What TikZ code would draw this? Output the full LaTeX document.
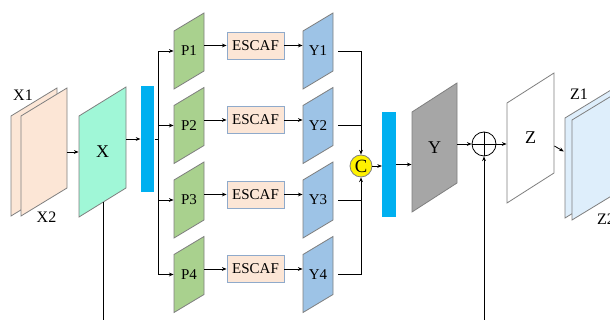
\documentclass[tikz,border=0pt]{standalone}
\usepackage{fontspec}
\setmainfont{Liberation Serif}
\usepackage{xcolor}
\usetikzlibrary{arrows.meta, calc}

\definecolor{peach}{HTML}{FCE6D6}
\definecolor{mint}{HTML}{A0F7D7}
\definecolor{leaf}{HTML}{A9D18E}
\definecolor{sky}{HTML}{9DC3E6}
\definecolor{barblue}{HTML}{00B0F0}
\definecolor{ice}{HTML}{DEEEFB}
\definecolor{edge}{HTML}{7F7F7F}
\definecolor{escedge}{HTML}{8FAACB}

\newcommand{\sheet}[8]{%
  \filldraw[#7] (#2,#3) -- ++(0,#5) -- ++(#4,#6) -- ++(0,-#5) -- cycle;
  \node[inner sep=0pt, minimum width=#4*0.75pt] (#1) at ({#2+#4/2},{#3+#5/2+#6/2}) {#8};
}
\newcommand{\bigtxt}{\fontsize{13.5}{15}\selectfont}

\begin{document}
\begin{tikzpicture}[x=0.75pt, y=0.75pt, line width=0.6pt,
        every node/.style={font=\fontsize{11.25}{13}\selectfont},
        arr/.style={-{Stealth[length=3.5pt, width=2.8pt]}},
        esc/.style={draw=escedge, fill=peach, inner sep=0pt, minimum width=42.75pt, minimum height=20.25pt},
        bar/.style={fill=barblue, inner sep=0pt, minimum width=10pt},
        lab/.style={font=\fontsize{12}{14}\selectfont}]
            \useasboundingbox (0,0) rectangle (610,320);
            \clip (0,0) rectangle (610,320);
            \sheet{X1}{11}{104}{46}{100}{28}{fill=peach, draw=edge}{}
            \sheet{X2}{21}{104}{46}{100}{28}{fill=peach, draw=edge}{}
            \node[lab] (x1lab) at (23,225) {X1};
            \node[lab] (x2lab) at (46.5,102.5) {X2};
            \sheet{X}{79}{103}{47}{101}{29}{fill=mint, draw=edge}{\bigtxt X}
            \draw[arr] (X2.east |- X.west) -- (X.west);
            \node[bar, minimum height=79.5pt] (bar1) at (147.5,181) {};
            \draw[arr] (X.east |- bar1.west) -- (bar1.west);
            \coordinate (split) at ($(bar1.east)+(4,0)$);
            \draw (bar1.east) -- (split);
            \foreach \i/\y in {1/231, 2/156.5, 3/82, 4/7.5}{
                \sheet{P\i}{174}{\y}{30}{58}{18}{fill=leaf, draw=edge}{P\i}
                \node[esc] (E\i) at (255.5,\y+43.5) {ESCAF};
                \sheet{Y\i}{303}{\y}{30}{58}{18}{fill=sky, draw=edge}{Y\i}
                \draw[arr] (split) |- (P\i.west);
                \draw[arr] (E\i.west -| P\i.east) -- (E\i.west);
                \draw[arr] (E\i.east) -- (E\i.east -| Y\i.west);
            }
            \node[circle, draw=edge, fill=yellow, inner sep=0pt, minimum size=16.5pt, font=\fontsize{14}{15}\selectfont] (C) at (361,154) {C};
            \draw[arr, shorten <=3.75pt] (Y1.east) -| (C.north);
            \draw[shorten <=3.75pt] (Y2.east) -- (Y2.east -| C.north);
            \draw[shorten <=3.75pt] (Y3.east) -- (Y3.east -| C.south);
            \draw[arr, shorten <=3.75pt] (Y4.east) -| (C.south);
            \node[bar, minimum height=78.75pt] (bar2) at (389,155.5) {};
            \draw[arr] (C.east) -- (C.east -| bar2.west);
            \sheet{Y}{412}{108}{45}{100}{29}{fill=black!35, draw=edge}{\bigtxt Y}
            \draw[arr] (bar2.east) -- (bar2.east -| Y.west);
            \node[circle, draw, inner sep=0pt, minimum size=18pt] (plus) at (484,176) {};
            \draw (plus.north) -- (plus.south) (plus.west) -- (plus.east);
            \draw[arr] (Y.east |- plus.west) -- (plus.west);
            \sheet{Z}{507}{117}{47}{100}{30}{fill=white, draw=edge}{\bigtxt Z}
            \draw[arr] (plus.east) -- (plus.east -| Z.west);
            \sheet{Z1}{565}{102}{46}{100}{28}{fill=ice, draw=edge}{}
            \sheet{Z2}{572}{100}{46}{100}{28}{fill=ice, draw=edge}{}
            \node[lab] (z1lab) at (579,226) {Z1};
            \node[lab] (z2lab) at (606,101) {Z2};
            \draw[arr, shorten >=6.75pt] ([yshift=-6pt]Z.east) -- (Z2.west);
            \coordinate (xfoot) at (103,118);
            \coordinate (xlow) at (103,-5);
            \coordinate (zlow) at (plus |- xlow);
            \draw (xlow) -- (xfoot);
            \draw[arr] (zlow) -- (plus.south);
        \end{tikzpicture}
\end{document}
